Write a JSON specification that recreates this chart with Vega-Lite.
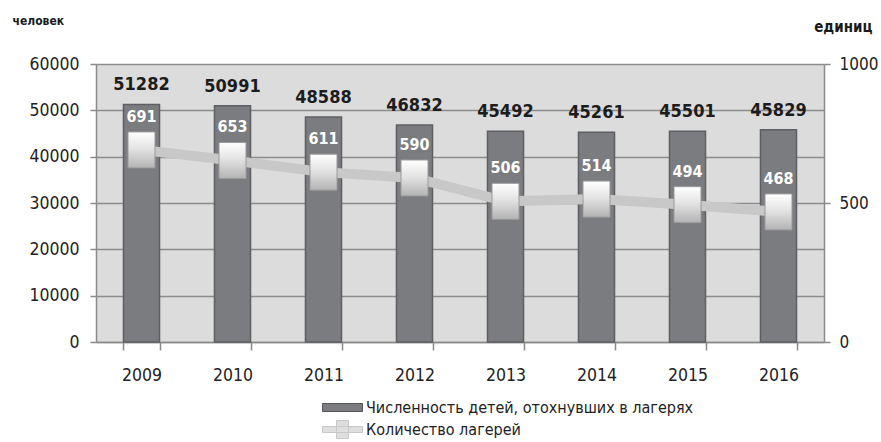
{
  "$schema": "https://vega.github.io/schema/vega-lite/v6.json",
  "width": 728,
  "height": 278,
  "autosize": {"type": "none"},
  "padding": {"left": 96, "top": 64, "right": 57, "bottom": 100},
  "background": "white",
  "config": {
    "view": {"stroke": null, "fill": "#dcdcdc"},
    "font": "DejaVu Sans Condensed, Open Sans, sans-serif",
    "axis": {
      "labelFont": "DejaVu Sans Condensed, Open Sans, sans-serif",
      "labelFontSize": 17.5,
      "labelColor": "#222222",
      "titleFont": "DejaVu Sans Condensed, Open Sans, sans-serif",
      "titleColor": "#1a1a1a",
      "domainColor": "#8a8a8a",
      "tickColor": "#8a8a8a",
      "gridColor": "#8c8c8c",
      "domainWidth": 1.5,
      "tickWidth": 1.5,
      "gridWidth": 1.5
    },
    "legend": {
      "labelFont": "DejaVu Sans Condensed, Open Sans, sans-serif",
      "labelFontSize": 16,
      "labelColor": "#222222",
      "labelLimit": 600
    }
  },
  "data": {
    "values": [
      {"year": "2009", "children": 51282, "camps": 691},
      {"year": "2010", "children": 50991, "camps": 653},
      {"year": "2011", "children": 48588, "camps": 611},
      {"year": "2012", "children": 46832, "camps": 590},
      {"year": "2013", "children": 45492, "camps": 506},
      {"year": "2014", "children": 45261, "camps": 514},
      {"year": "2015", "children": 45501, "camps": 494},
      {"year": "2016", "children": 45829, "camps": 468}
    ]
  },
  "encoding": {
    "x": {
      "field": "year",
      "type": "ordinal",
      "scale": {"paddingInner": 0.604, "paddingOuter": 0.302},
      "axis": {
        "title": null,
        "labelAngle": 0,
        "tickBand": "extent",
        "tickSize": 8,
        "labelPadding": 16
      }
    }
  },
  "layer": [
    {
      "encoding": {
        "y": {
          "field": "children",
          "type": "quantitative",
          "scale": {"domain": [0, 60000]},
          "axis": {
            "title": "человек",
            "titleAngle": 0,
            "titleX": -84,
            "titleY": -44,
            "titleAlign": "left",
            "titleBaseline": "middle",
            "titleFontSize": 12,
            "titleFontWeight": "bold",
            "values": [0, 10000, 20000, 30000, 40000, 50000, 60000],
            "format": "d",
            "grid": true,
            "tickSize": 6,
            "labelPadding": 11
          }
        }
      },
      "layer": [
        {
          "mark": {"type": "bar", "stroke": "#5e5f62", "strokeWidth": 1.5},
          "encoding": {
            "fill": {
              "datum": "Численность детей, отохнувших в лагерях",
              "scale": {"range": ["#7b7c80"]},
              "legend": {
                "title": null,
                "orient": "none",
                "legendX": 226,
                "legendY": 323,
                "padding": 0,
                "symbolType": "M-1,-0.2H1V0.2H-1Z",
                "symbolSize": 1600,
                "symbolStrokeColor": "#555555",
                "symbolStrokeWidth": 1,
                "symbolOffset": 0,
                "labelOffset": 3
              }
            }
          }
        },
        {
          "mark": {
            "type": "text",
            "baseline": "bottom",
            "dy": -10,
            "fontWeight": "bold",
            "fontSize": 18,
            "color": "#1c1c1c"
          },
          "encoding": {"text": {"field": "children", "type": "nominal"}}
        }
      ]
    },
    {
      "encoding": {
        "y": {
          "field": "camps",
          "type": "quantitative",
          "scale": {"domain": [0, 1000]},
          "axis": {
            "orient": "right",
            "title": "единиц",
            "titleAngle": 0,
            "titleX": 48,
            "titleY": -38,
            "titleAlign": "right",
            "titleBaseline": "middle",
            "titleFontSize": 15,
            "titleFontWeight": "bold",
            "values": [0, 500, 1000],
            "format": "d",
            "grid": false,
            "tickSize": 6,
            "labelPadding": 9,
            "labelFontSize": 17
          }
        }
      },
      "layer": [
        {
          "mark": {"type": "line", "strokeWidth": 10},
          "encoding": {
            "stroke": {
              "datum": "Количество лагерей",
              "scale": {"range": ["#c8c8c8"]},
              "legend": {
                "title": null,
                "orient": "none",
                "legendX": 226,
                "legendY": 345,
                "padding": 0,
                "symbolType": "M-1,-0.15H1V0.15H-1Z M-0.3,-0.45H0.3V0.45H-0.3Z",
                "symbolSize": 1600,
                "symbolFillColor": "#dedede",
                "symbolStrokeWidth": 1,
                "symbolOffset": 0,
                "labelOffset": 3
              }
            }
          }
        },
        {
          "mark": {
            "type": "point",
            "shape": "M-0.75,-1H0.75V1H-0.75Z",
            "size": 1296,
            "filled": true,
            "opacity": 1,
            "fill": {
              "gradient": "linear",
              "x1": 0, "y1": 0, "x2": 0, "y2": 1,
              "stops": [
                {"offset": 0, "color": "#ffffff"},
                {"offset": 0.45, "color": "#e4e4e4"},
                {"offset": 1, "color": "#b3b3b3"}
              ]
            },
            "stroke": "#9a9a9a",
            "strokeWidth": 1
          },
          "encoding": {}
        },
        {
          "mark": {
            "type": "text",
            "baseline": "middle",
            "dy": -33,
            "fontWeight": "bold",
            "fontSize": 16,
            "color": "#ffffff"
          },
          "encoding": {"text": {"field": "camps", "type": "nominal"}}
        }
      ]
    }
  ],
  "resolve": {"scale": {"y": "independent"}}
}
